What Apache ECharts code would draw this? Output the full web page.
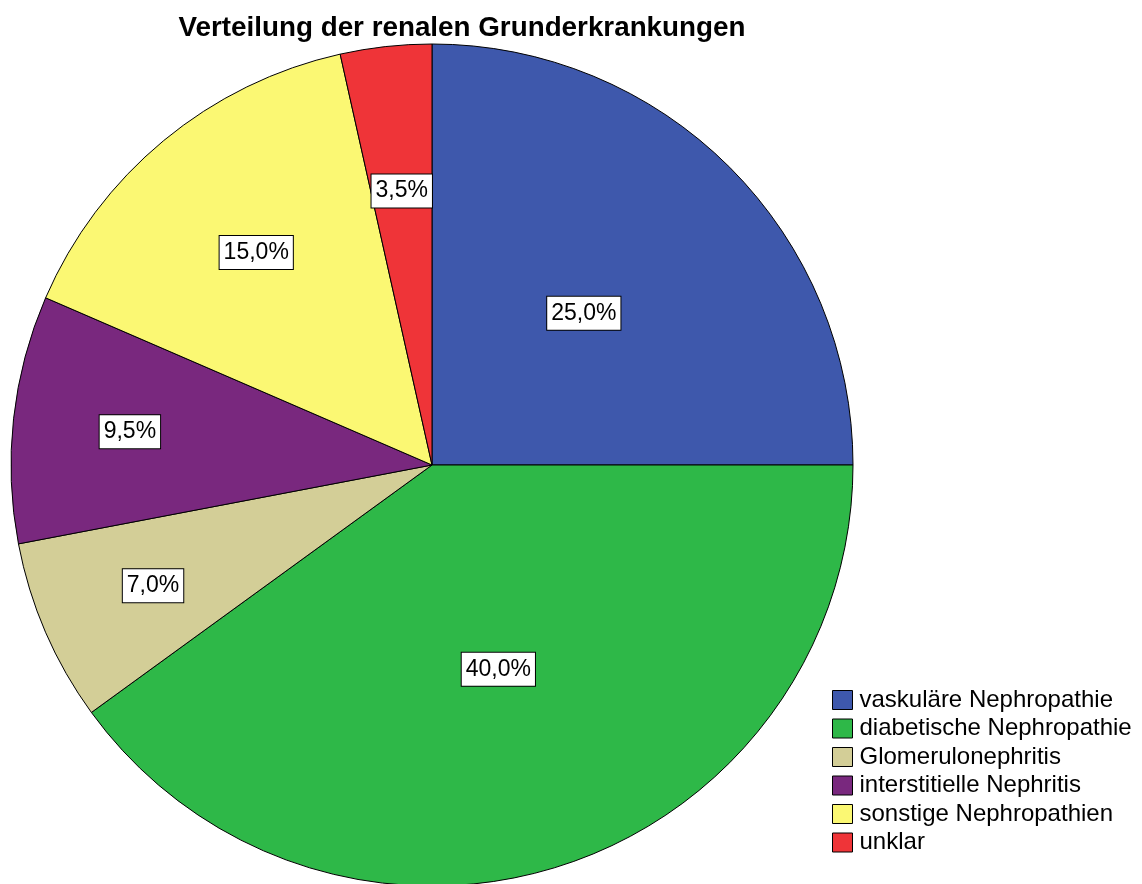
<!DOCTYPE html>
<html lang="de">
  <head>
    <meta charset="UTF-8" />
    <title>Verteilung der renalen Grunderkrankungen</title>
    <script src="https://cdn.jsdelivr.net/npm/echarts@6/dist/echarts.min.js"></script>
    <style>
      html,
      body {
        margin: 0;
        padding: 0;
        background: #fff;
      }
      #chart {
        width: 1142px;
        height: 884px;
      }
    </style>
  </head>
  <body>
    <div id="chart"></div>
    <script>
      const categories = [
        "vaskuläre Nephropathie",
        "diabetische Nephropathie",
        "Glomerulonephritis",
        "interstitielle Nephritis",
        "sonstige Nephropathien",
        "unklar",
      ];
      const percentages = [25.0, 40.0, 7.0, 9.5, 15.0, 3.5];
      const colors = ["#3e58ac", "#2eb848", "#d3ce97", "#79287e", "#fbf873", "#ef3438"];

      const cx = 432;
      const cy = 465;
      const radius = 421;

      const chart = echarts.init(document.getElementById("chart"));

      // mid angle of each slice, clockwise from 12 o'clock
      const total = percentages.reduce((a, b) => a + b, 0);
      const midAngles = [];
      let acc = 0;
      percentages.forEach((v) => {
        midAngles.push(((acc + v / 2) / total) * 2 * Math.PI);
        acc += v;
      });

      const option = {
        animation: false,
        color: colors,
        textStyle: { fontFamily: "Arial, 'Liberation Sans', sans-serif" },
        title: {
          text: "Verteilung der renalen Grunderkrankungen",
          left: 457,
          top: 9,
          textAlign: "center",
          textStyle: { fontSize: 27.8, fontWeight: "bold", color: "#000" },
        },
        legend: {
          orient: "vertical",
          left: 827,
          top: 683,
          height: 200,
          itemWidth: 20,
          itemHeight: 19,
          itemGap: 4.5,
          icon: "rect",
          itemStyle: { borderColor: "#000", borderWidth: 1 },
          textStyle: { fontSize: 24, color: "#000", padding: [0, 0, 0, 2] },
          data: categories,
        },
        series: [
          {
            type: "pie",
            center: [cx, cy],
            radius: radius,
            startAngle: 90,
            clockwise: true,
            emphasis: { disabled: true },
            itemStyle: { borderColor: "#000", borderWidth: 1 },
            label: {
              position: "inside",
              formatter: (p) => p.value.toFixed(1).replace(".", ",") + "%",
              color: "#000",
              fontSize: 23,
              lineHeight: 26,
              backgroundColor: "#fff",
              borderColor: "#000",
              borderWidth: 1,
              padding: [4, 4, 3, 4],
            },
            // SPSS pushes labels of the small slices further out
            labelLayout: (params) => {
              const v = percentages[params.dataIndex];
              const a = midAngles[params.dataIndex];
              let f = 0.655;
              if (v >= 20) f = 0.51;
              else if (v >= 5 && v < 10) f = 0.722;
              return {
                x: cx + Math.sin(a) * f * radius,
                y: cy - Math.cos(a) * f * radius,
              };
            },
            data: categories.map((name, i) => ({ name: name, value: percentages[i] })),
          },
        ],
      };
      chart.setOption(option);
    </script>
  </body>
</html>
